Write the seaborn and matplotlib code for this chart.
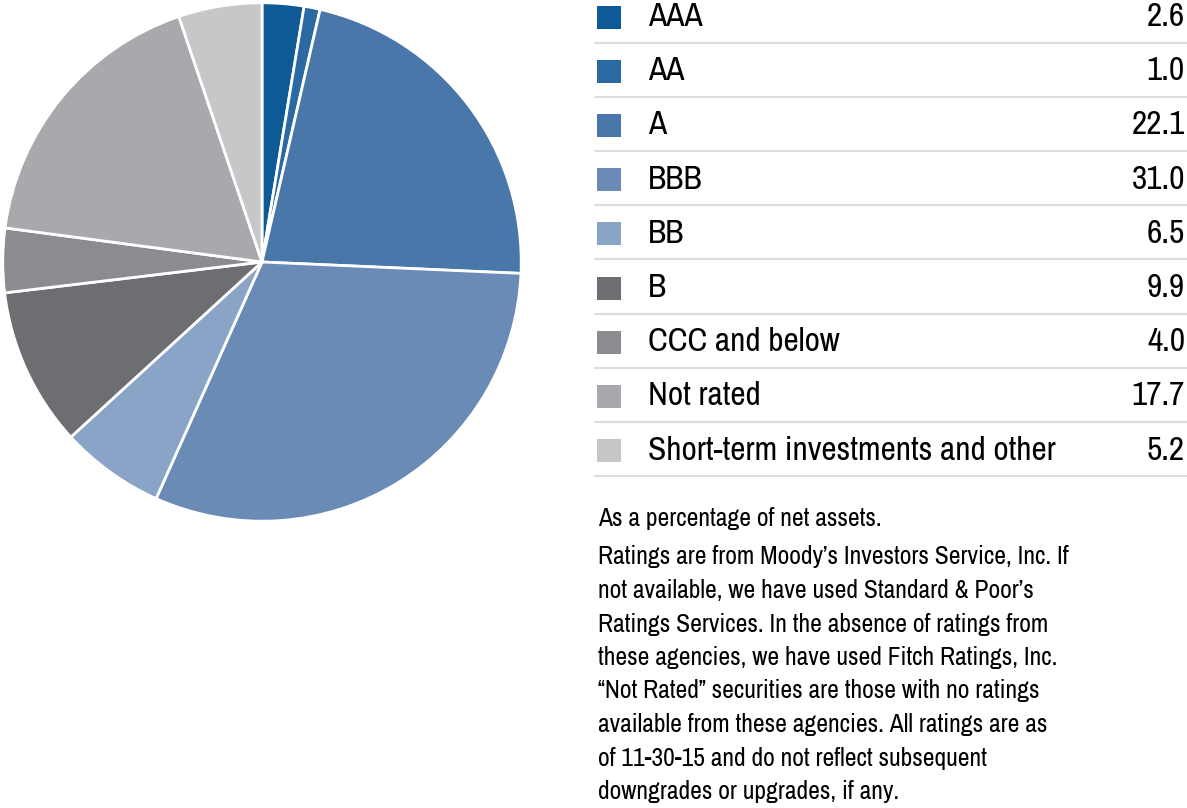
import numpy as np
import seaborn as sns
import matplotlib.pyplot as plt
from matplotlib import font_manager
from matplotlib.patches import Rectangle

sns.set_style("white")

# Credit quality breakdown, % of net assets
ratings = ["AAA", "AA", "A", "BBB", "BB", "B", "CCC and below",
           "Not rated", "Short-term investments and other"]
shares = [2.6, 1.0, 22.1, 31.0, 6.5, 9.9, 4.0, 17.7, 5.2]
colors = ["#0d5a96", "#2b69a3", "#4a77a9", "#6b8bb7", "#8aa4c8",
          "#6d6e71", "#8a8c8f", "#a7a9ac", "#c6c7c9"]

note_top = "As a percentage of net assets."
note_lines = [
    "Ratings are from Moody\u2019s Investors Service, Inc. If",
    "not available, we have used Standard & Poor\u2019s",
    "Ratings Services. In the absence of ratings from",
    "these agencies, we have used Fitch Ratings, Inc.",
    "\u201cNot Rated\u201d securities are those with no ratings",
    "available from these agencies. All ratings are as",
    "of 11-30-15 and do not reflect subsequent",
    "downgrades or upgrades, if any.",
]

# pick a narrow face if there is one, else Roboto
names = {f.name for f in font_manager.fontManager.ttflist}
narrow = sorted(n for n in names if "Narrow" in n or "Condensed" in n)
family = narrow[0] if narrow else "Roboto"
plt.rcParams["font.family"] = [family, "DejaVu Sans"]
plt.rcParams["font.weight"] = "light"

W, H = 1187, 808
fig = plt.figure(figsize=(W / 100, H / 100), dpi=100)
renderer = fig.canvas.get_renderer()


def fit_size(text, target_px, size=20):
    # scale font size so the string spans target_px
    t = fig.text(0, 0, text, fontsize=size)
    w = t.get_window_extent(renderer).width
    t.remove()
    return size * target_px / w


leg_size = fit_size(ratings[-1], 407)
note_size = fit_size(note_lines[0], 470)

# pie
ax = fig.add_axes([2 / W, 1 - 522 / H, 520 / W, 520 / H])
ax.pie(shares, colors=colors, startangle=90, counterclock=False,
       wedgeprops={"edgecolor": "white", "linewidth": 2})
ax.set_xlim(-1.003, 1.003)
ax.set_ylim(-1.003, 1.003)
ax.set_aspect("equal")

# legend table in pixel coordinates
lg = fig.add_axes([0, 0, 1, 1])
lg.set_xlim(0, W)
lg.set_ylim(H, 0)
lg.axis("off")

row_h = 54.2
y0 = 17
for i, (name, val, c) in enumerate(zip(ratings, shares, colors)):
    yc = y0 + i * row_h
    lg.add_patch(Rectangle((597, yc - 11.5), 24, 23, facecolor=c, edgecolor="none"))
    lg.text(648, yc, name, fontsize=leg_size, va="center", ha="left", color="#000000")
    lg.text(1185, yc, f"{val:.1f}", fontsize=leg_size, va="center", ha="right", color="#000000")
    lg.plot([595, 1187], [yc + 25.5, yc + 25.5], color="#dcdcdc", lw=1.5)

lg.text(598, 518, note_top, fontsize=note_size, va="center", ha="left", color="#000000")
for j, line in enumerate(note_lines):
    lg.text(598, 557 + j * 33.5, line, fontsize=note_size, va="center", ha="left", color="#000000")

fig.savefig("out.png", dpi=100)
